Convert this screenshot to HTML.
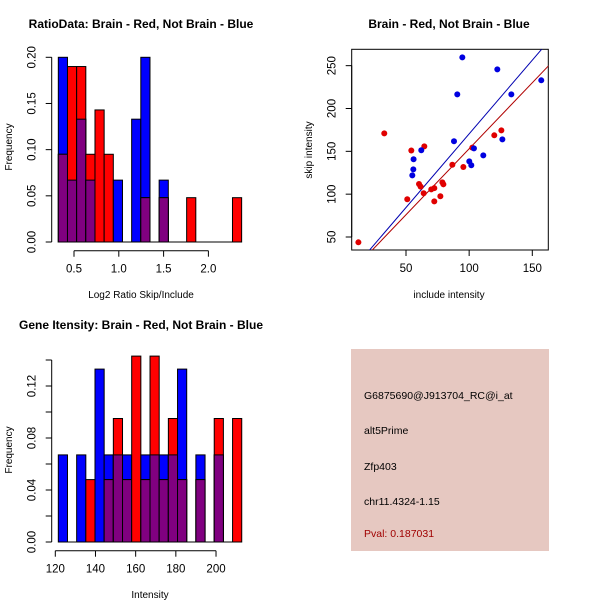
<!DOCTYPE html>
<html><head><meta charset="utf-8"><style>
body{margin:0;background:#fff;}
svg{display:block;font-family:"Liberation Sans",Arial,sans-serif;}
</style></head><body>
<svg id="c" width="600" height="600" viewBox="0 0 600 600">
<rect width="600" height="600" fill="#fff"/>
<text x="141" y="28" text-anchor="middle" font-size="12" font-weight="bold">RatioData: Brain - Red, Not Brain - Blue</text>
<text x="449" y="28" text-anchor="middle" font-size="12" font-weight="bold">Brain - Red, Not Brain - Blue</text>
<text x="141" y="329" text-anchor="middle" font-size="12" font-weight="bold">Gene Itensity: Brain - Red, Not Brain - Blue</text>
<text x="141" y="298" text-anchor="middle" font-size="10">Log2 Ratio Skip/Include</text>
<text transform="translate(12,147) rotate(-90)" text-anchor="middle" font-size="10">Frequency</text>
<text x="449" y="298" text-anchor="middle" font-size="10">include intensity</text>
<text transform="translate(312,150) rotate(-90)" text-anchor="middle" font-size="10">skip intensity</text>
<text x="150" y="598" text-anchor="middle" font-size="10">Intensity</text>
<text transform="translate(12,450) rotate(-90)" text-anchor="middle" font-size="10">Frequency</text>
<g>
<rect x="351" y="349" width="198" height="202" fill="#e6c8c1"/>
<text x="364" y="399" font-size="10.5">G6875690@J913704_RC@i_at</text>
<text x="364" y="434" font-size="10.5">alt5Prime</text>
<text x="364" y="470" font-size="10.5">Zfp403</text>
<text x="364" y="505" font-size="10.5">chr11.4324-1.15</text>
<text x="364" y="537" font-size="10.5" fill="#a00000">Pval: 0.187031</text>
</g>
</svg>
<script>
// Ratio histogram data
const ratioStart = 0.325, ratioWidth = 0.1023;
const ratioBlue = [0.2,0.067,0.133,0.067,0,0,0.067,0,0.133,0.2,0,0.067,0,0,0,0,0,0,0,0];
const ratioRed = [0.095,0.19,0.19,0.095,0.143,0.095,0,0,0,0.048,0,0.048,0,0,0.048,0,0,0,0,0.048];
const ratioXTicks = [0.5,1.0,1.5,2.0];
const ratioXLabels = ["0.5","1.0","1.5","2.0"];
const ratioYTicks = [0,0.05,0.10,0.15,0.20];
const ratioYLabels = ["0.00","0.05","0.10","0.15","0.20"];
// Intensity histogram data
const intStart = 121.5, intWidth = 4.565;
const intBlue = [0.067,0,0.067,0,0.133,0.067,0.067,0.067,0,0.067,0.067,0.067,0.067,0.133,0,0.067,0,0.067,0,0];
const intRed = [0,0,0,0.048,0,0.048,0.095,0.048,0.143,0.048,0.143,0.048,0.095,0.048,0,0.048,0,0.095,0,0.095];
const intXTicks = [120,140,160,180,200];
const intYTicks = [0,0.02,0.04,0.06,0.08,0.10,0.12,0.14];
const intYLabels = ["0.00","","0.04","","0.08","","0.12",""];
// Scatter data
const redX = [12.3,32.8,54.2,64.5,51,60.3,61.6,64,70,72.4,72.4,77.2,78.8,79.6,86.7,95.4,102.5,119.9,125.5];
const redY = [43.8,171,151,155.8,94,111.9,108.8,101,105.6,107,91.6,97.5,113.8,111.5,134.4,131.7,154.3,168.7,174.5];
const blueX = [94.6,90.6,88,62.1,56,55.8,55,100.1,101.7,103.8,111.2,122.3,133.4,126.3,157.1];
const blueY = [259.7,216.5,161.7,151.2,140.7,129,122,138.3,133.7,153.5,145.3,245.7,216.5,164,232.9];
const blueFit = [-1.6,1.72];
const redFit = [-1.1,1.541];
const scXTicks = [50,100,150];
const scYTicks = [50,100,150,200,250];

const svg = document.getElementById('c');
const NS = 'http://www.w3.org/2000/svg';
function mk(tag, attrs, parent){const e=document.createElementNS(NS,tag);for(const k in attrs)e.setAttribute(k,attrs[k]);(parent||svg).appendChild(e);return e;}

function hist(start,width,blue,red,xs,ys,name){
  for(let i=0;i<blue.length;i++){
    const x0=xs(start+i*width), x1=xs(start+(i+1)*width);
    const b=blue[i], r=red[i], m=Math.min(b,r);
    if(b>0){const e=mk('rect',{x:x0,y:ys(b),width:x1-x0,height:ys(0)-ys(b),fill:'#0000ff',stroke:'#000','stroke-width':1});
      
      }
    if(r>0){const e=mk('rect',{x:x0,y:ys(r),width:x1-x0,height:ys(0)-ys(r),fill:'#ff0000',stroke:'#000','stroke-width':1});
      
      }
    if(m>0){const e=mk('rect',{x:x0,y:ys(m),width:x1-x0,height:ys(0)-ys(m),fill:'#800080',stroke:'#000','stroke-width':1});
      
      }
  }
  const base=mk('line',{x1:xs(start),x2:xs(start+blue.length*width),y1:ys(0),y2:ys(0),stroke:'#000'});
  
  
}
function xAxis(ticks,labels,xs,y,name){
  const g=mk('g',{});
  
  
  mk('line',{x1:xs(ticks[0]),x2:xs(ticks[ticks.length-1]),y1:y,y2:y,stroke:'#000'},g);
  ticks.forEach((t,i)=>{mk('line',{x1:xs(t),x2:xs(t),y1:y,y2:y+6,stroke:'#000'},g);
    const tx=mk('text',{x:xs(t),y:y+22,'text-anchor':'middle','font-size':'11.5'},g);tx.textContent=labels[i];});
}
function yAxis(ticks,labels,ys,x,name){
  const g=mk('g',{});
  
  
  mk('line',{x1:x,x2:x,y1:ys(ticks[0]),y2:ys(ticks[ticks.length-1]),stroke:'#000'},g);
  ticks.forEach((t,i)=>{mk('line',{x1:x-6,x2:x,y1:ys(t),y2:ys(t),stroke:'#000'},g);
    if(labels[i]){const tx=mk('text',{transform:`translate(${x-16},${ys(t)}) rotate(-90)`,'text-anchor':'middle','font-size':'11.5'},g);tx.textContent=labels[i];}});
}

// Ratio histogram
const rX=v=>74+(v-0.5)*89.6, rY=v=>242-v*923.5;
hist(ratioStart,ratioWidth,ratioBlue,ratioRed,rX,rY,'ratio');
xAxis(ratioXTicks,ratioXLabels,rX,250.7,'ratio-x-axis');
yAxis(ratioYTicks,ratioYLabels,rY,51.7,'ratio-y-axis');

// Intensity histogram
const iX=v=>55.3+(v-120)*2.009, iY=v=>542-v*1300;
hist(intStart,intWidth,intBlue,intRed,iX,iY,'intensity');
xAxis(intXTicks,intXTicks.map(String),iX,550.7,'intensity-x-axis');
yAxis(intYTicks,intYLabels,iY,51.7,'intensity-y-axis');

// Scatter
const sX=v=>406+(v-50)*1.263, sY=v=>237-(v-50)*0.8567;
const box=mk('rect',{x:351.7,y:49.3,width:196.6,height:200.7,fill:'none',stroke:'#000'});


const clip=mk('clipPath',{id:'sc'});mk('rect',{x:351.7,y:49.3,width:196.6,height:200.7},clip);
function fit(f,col,name){const x0=0,x1=200;const l=mk('line',{x1:sX(x0),y1:sY(f[0]+f[1]*x0),x2:sX(x1),y2:sY(f[0]+f[1]*x1),stroke:col,'clip-path':'url(#sc)'});
  
  }
fit(blueFit,'#0000b0','blue-fit-line');
fit(redFit,'#b00000','red-fit-line');
redX.forEach((v,i)=>{const c=mk('circle',{cx:sX(v),cy:sY(redY[i]),r:3,fill:'#e00000'});
  
  });
blueX.forEach((v,i)=>{const c=mk('circle',{cx:sX(v),cy:sY(blueY[i]),r:3,fill:'#0000e0'});
  
  });
xAxis(scXTicks,scXTicks.map(String),sX,250,'scatter-x-axis');
yAxis(scYTicks,scYTicks.map(String),sY,351.7,'scatter-y-axis');
</script>
</body></html>
